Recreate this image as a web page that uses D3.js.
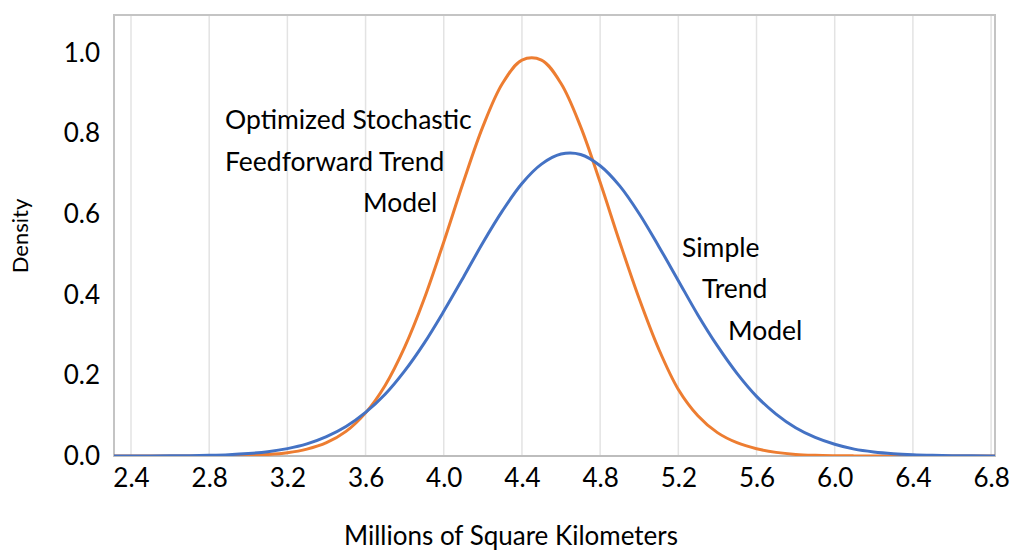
<!DOCTYPE html>
<html>
<head>
<meta charset="utf-8">
<script src="https://cdn.jsdelivr.net/npm/d3@7"></script>
<style>
  html, body { margin: 0; padding: 0; background: #fff; }
  svg { display: block; }
  text { font-family: Lato, "Open Sans", sans-serif; fill: #000; }
</style>
</head>
<body>
<svg id="chart" width="1011" height="553"></svg>
<script>
// ---- data ----
const xValues = [2.3,2.4,2.5,2.6,2.7,2.8,2.9,3.0,3.1,3.2,3.3,3.4,3.5,3.6,3.7,3.8,3.9,4.0,4.1,4.2,4.3,4.4,4.5,4.6,4.7,4.8,4.9,5.0,5.1,5.2,5.3,5.4,5.5,5.6,5.7,5.8,5.9,6.0,6.1,6.2,6.3,6.4,6.5,6.6,6.7,6.8,6.9];
const optimizedDensity = [0,0,0,0,0.0001,0.0002,0.0006,0.0015,0.0036,0.008,0.017,0.033,0.061,0.107,0.175,0.270,0.390,0.531,0.679,0.817,0.924,0.982,0.982,0.924,0.817,0.679,0.531,0.390,0.265,0.165,0.100,0.058,0.033,0.018,0.009,0.004,0.0018,0.0008,0.0003,0.0001,0,0,0,0,0,0,0];
const simpleDensity = [0.00004,0.0001,0.0002,0.0004,0.0009,0.0018,0.0033,0.0061,0.0107,0.0183,0.030,0.048,0.073,0.108,0.153,0.211,0.280,0.359,0.443,0.529,0.608,0.676,0.724,0.749,0.748,0.720,0.670,0.601,0.520,0.435,0.350,0.273,0.205,0.148,0.104,0.070,0.046,0.029,0.017,0.010,0.0057,0.0031,0.0016,0.0008,0.0004,0.0002,0.0001];
const xTicks = [2.4,2.8,3.2,3.6,4.0,4.4,4.8,5.2,5.6,6.0,6.4,6.8];
const yTicks = [0,0.2,0.4,0.6,0.8,1.0];
const xTitle = "Millions of Square Kilometers";
const yTitle = "Density";
const optimizedLabel = ["Optimized Stochastic", "Feedforward Trend", "Model"];
const simpleLabel = ["Simple", "Trend", "Model"];

// ---- layout ----
const plot = { left: 114, top: 15, right: 995, bottom: 456 };
const svg = d3.select("#chart");

const x = d3.scaleLinear().domain([2.313, 6.82]).range([plot.left, plot.right]);
const y = d3.scaleLinear().domain([0, 1.094]).range([plot.bottom, plot.top]);

// gridlines
svg.append("g").selectAll("line").data(xTicks).join("line")
  .attr("x1", d => x(d)).attr("x2", d => x(d))
  .attr("y1", plot.top).attr("y2", plot.bottom)
  .attr("stroke", "#e3e3e3").attr("stroke-width", 1.5);

// plot border
svg.append("rect")
  .attr("x", plot.left).attr("y", plot.top)
  .attr("width", plot.right - plot.left).attr("height", plot.bottom - plot.top)
  .attr("fill", "none").attr("stroke", "#c4c4c4").attr("stroke-width", 2);

// clip
svg.append("clipPath").attr("id", "clip").append("rect")
  .attr("x", plot.left).attr("y", plot.top - 5)
  .attr("width", plot.right - plot.left).attr("height", plot.bottom - plot.top + 5);

// axes (labels only)
const xAxis = d3.axisBottom(x).tickValues(xTicks).tickFormat(d3.format(".1f")).tickSize(0).tickPadding(13);
const gx = svg.append("g").attr("transform", `translate(0,${plot.bottom})`).call(xAxis);
gx.select(".domain").remove();
gx.selectAll("text").attr("font-size", 26).attr("font-family", "Lato").attr("fill", "#000");

const yAxis = d3.axisLeft(y).tickValues(yTicks).tickFormat(d3.format(".1f")).tickSize(0).tickPadding(14);
const gy = svg.append("g").attr("transform", `translate(${plot.left},0)`).call(yAxis);
gy.select(".domain").remove();
gy.selectAll("text").attr("font-size", 26).attr("font-family", "Lato").attr("fill", "#000");

// bottom axis line
svg.append("line").attr("x1", plot.left).attr("x2", plot.right)
  .attr("y1", plot.bottom).attr("y2", plot.bottom)
  .attr("stroke", "#bdbdbd").attr("stroke-width", 2);

// lines
const line = vals => d3.line()
  .x((d, i) => x(xValues[i]))
  .y(d => y(Math.max(0, d)))
  .curve(d3.curveCatmullRom)(vals);

const gl = svg.append("g").attr("clip-path", "url(#clip)");
gl.append("path").attr("d", line(optimizedDensity))
  .attr("fill", "none").attr("stroke", "#ED7D31").attr("stroke-width", 3);
gl.append("path").attr("d", line(simpleDensity))
  .attr("fill", "none").attr("stroke", "#4472C4").attr("stroke-width", 3);

// annotations
const optPos = [[225, 129], [225, 171], [363, 212]];
optimizedLabel.forEach((t, i) => svg.append("text")
  .attr("x", optPos[i][0]).attr("y", optPos[i][1]).attr("font-size", 26.5).text(t));
const simPos = [[682, 257], [702, 298], [728, 340]];
simpleLabel.forEach((t, i) => svg.append("text")
  .attr("x", simPos[i][0]).attr("y", simPos[i][1]).attr("font-size", 26.5).text(t));

// axis titles
svg.append("text").attr("x", 511).attr("y", 545).attr("text-anchor", "middle")
  .attr("font-size", 26).text(xTitle);
svg.append("text").attr("transform", "translate(28,236) rotate(-90)")
  .attr("text-anchor", "middle").attr("font-size", 22).text(yTitle);
</script>
</body>
</html>
